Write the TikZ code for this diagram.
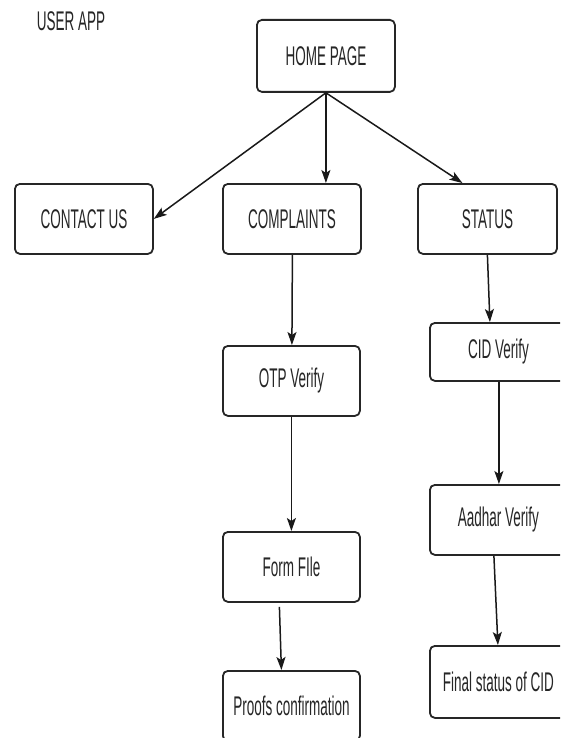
\documentclass[tikz,border=0pt]{standalone}
\usepackage{fontspec}
\setmainfont{Liberation Sans}[FakeStretch=0.5]
\usetikzlibrary{arrows.meta}
\tikzset{
  box/.style={draw=black!85, line width=1.8pt, rounded corners=5pt, fill=white,
    minimum width=137pt, minimum height=70pt, inner sep=0pt, anchor=north west,
    font=\fontsize{27}{31}\selectfont, text=black!85},
  conn/.style={draw=black!90, line width=1.5pt, -{Stealth[length=13pt,width=9pt,inset=3pt]}},
  lbl/.style={font=\fontsize{27}{31}\selectfont, inner sep=0pt, text=black!85}
}
\begin{document}
\begin{tikzpicture}[x=1pt,y=-1pt]
\useasboundingbox (0,0) rectangle (560,738);
\clip (0,0) rectangle (560,738);
\fill[white] (0,0) rectangle (560,738);
\node[lbl] (title) at (71,21) {USER APP};
\node[box, minimum width=138pt, minimum height=72pt] (home) at (256,19) {HOME PAGE};
\node[box, minimum width=138pt] (contact) at (14,183) {CONTACT US};
\node[box, minimum width=138pt] (complaints) at (222,183) {COMPLAINTS};
\node[box, minimum width=139pt] (status) at (417,183) {STATUS};
\node[box] (otp) at (222,345) {OTP Verify};
\node[box] (form) at (222,531) {Form FIle};
\node[box] (proofs) at (222,670) {Proofs confirmation};
\node[box, minimum height=58pt] (cid) at (429,322) {CID Verify};
\node[box] (aadhar) at (429,484) {Aadhar Verify};
\node[box, minimum height=72pt] (final) at (429,645) {Final status of CID};
\draw[conn] (home.south) -- (contact.east);
\draw[conn] (home.south) -- (home.south |- complaints.north);
\draw[conn] (home.south) -- ([xshift=-25pt]status.north);
\draw[conn] ([xshift=0.5pt]complaints.south) -- ([xshift=0.5pt]otp.north);
\draw[conn] (otp.south) -- (form.north);
\draw[conn] ([xshift=-12pt,yshift=-4pt]form.south) -- ([xshift=-10pt]proofs.north);
\draw[conn] (status.south) -- ([xshift=-8.5pt]cid.north);
\draw[conn] ([xshift=0.5pt]cid.south) -- ([xshift=0.5pt]aadhar.north);
\draw[conn] ([xshift=-4.5pt]aadhar.south) -- ([xshift=-0.5pt]final.north);
\end{tikzpicture}
\end{document}
